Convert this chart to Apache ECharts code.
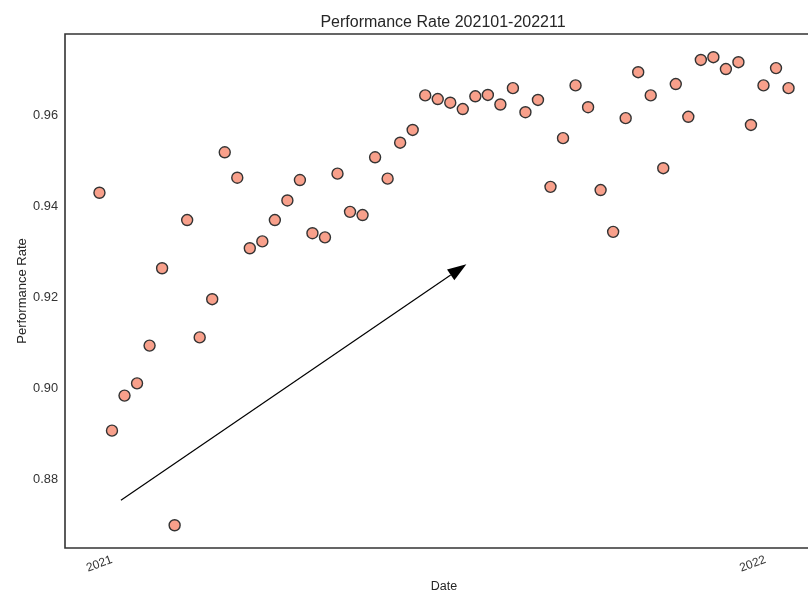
<!DOCTYPE html>
<html>
<head>
<meta charset="utf-8">
<script src="https://cdn.jsdelivr.net/npm/echarts@6/dist/echarts.min.js"></script>
<style>html,body{margin:0;padding:0;background:#fff}#c{width:808px;height:591px}</style>
</head>
<body>
<div id="c"></div>
<script>
const dates = ['2021-01-01','2021-01-08','2021-01-15','2021-01-22','2021-01-29','2021-02-05','2021-02-12','2021-02-19','2021-02-26','2021-03-05','2021-03-12','2021-03-19','2021-03-26','2021-04-02','2021-04-09','2021-04-16','2021-04-23','2021-04-30','2021-05-07','2021-05-14','2021-05-21','2021-05-28','2021-06-04','2021-06-11','2021-06-18','2021-06-25','2021-07-02','2021-07-09','2021-07-16','2021-07-23','2021-07-30','2021-08-06','2021-08-13','2021-08-20','2021-08-27','2021-09-03','2021-09-10','2021-09-17','2021-09-24','2021-10-01','2021-10-08','2021-10-15','2021-10-22','2021-10-29','2021-11-05','2021-11-12','2021-11-19','2021-11-26','2021-12-03','2021-12-10','2021-12-17','2021-12-24','2021-12-31','2022-01-07','2022-01-14','2022-01-21'];
const rates = [0.9431,0.8908,0.8985,0.9012,0.9095,0.9265,0.8700,0.9371,0.9113,0.9197,0.9520,0.9464,0.9309,0.9324,0.9371,0.9414,0.9459,0.9342,0.9333,0.9473,0.9389,0.9382,0.9509,0.9462,0.9541,0.9569,0.9645,0.9637,0.9629,0.9615,0.9643,0.9646,0.9625,0.9661,0.9608,0.9635,0.9444,0.9551,0.9667,0.9619,0.9437,0.9345,0.9595,0.9696,0.9645,0.9485,0.9670,0.9598,0.9723,0.9729,0.9703,0.9718,0.9580,0.9667,0.9705,0.9661];
const yTicks = [0.88, 0.90, 0.92, 0.94, 0.96];
const xTickLabels = ['2021', '2022'];
const arrowStart = ['2021-01-13', 0.8755];
const arrowEnd = ['2021-07-25', 0.9274];
const titleText = 'Performance Rate 202101-202211';

const parse = s => new Date(s + 'T00:00:00').getTime();
const tFirst = parse(dates[0]);
const tLast = parse(dates[dates.length - 1]);
const pad = 0.05 * (tLast - tFirst);
const xTickValues = xTickLabels.map(y => parse(y + '-01-01'));

const chart = echarts.init(document.getElementById('c'));
chart.setOption({
  animation: false,
  backgroundColor: '#fff',
  title: {
    text: titleText, left: 438, top: 10, textAlign: 'center',
    textStyle: {fontFamily: 'Liberation Sans', fontSize: 16, fontWeight: 'normal', color: '#262626'}
  },
  grid: {left: 65, top: 34, width: 758, height: 514, outerBoundsMode: 'none', containLabel: false,
         show: true, borderColor: '#333', borderWidth: 1.6},
  xAxis: {
    type: 'value', min: tFirst - pad, max: tLast + pad,
    name: 'Date', nameLocation: 'middle', nameGap: 29,
    nameTextStyle: {fontFamily: 'Liberation Sans', fontSize: 12.5, color: '#262626'},
    axisLine: {show: false}, axisTick: {show: false}, splitLine: {show: false},
    axisLabel: {
      customValues: xTickValues, rotate: 20, align: 'center', verticalAlign: 'middle', margin: 16,
      fontFamily: 'Liberation Sans', fontSize: 12, color: '#333',
      formatter: v => String(new Date(v).getFullYear())
    }
  },
  yAxis: {
    type: 'value', min: 0.865, max: 0.978,
    name: 'Performance Rate', nameLocation: 'middle', nameGap: 36, nameMoveOverlap: false,
    nameTextStyle: {fontFamily: 'Liberation Sans', fontSize: 13, color: '#262626'},
    axisLine: {show: false}, axisTick: {show: false}, splitLine: {show: false},
    axisLabel: {
      customValues: yTicks, margin: 7,
      fontFamily: 'Liberation Sans', fontSize: 12.8, color: '#333',
      formatter: v => v.toFixed(2)
    }
  },
  series: [
    {
      type: 'scatter',
      data: dates.map((d, i) => [parse(d), rates[i]]),
      symbolSize: 11,
      itemStyle: {color: '#f8a08b', borderColor: '#333', borderWidth: 1.4, opacity: 1}
    },
    {
      type: 'custom',
      data: [[parse(arrowStart[0]), arrowStart[1], parse(arrowEnd[0]), arrowEnd[1]]],
      encode: {x: [0, 2], y: [1, 3]},
      silent: true,
      renderItem: (params, api) => {
        const p0 = api.coord([api.value(0), api.value(1)]);
        const p1 = api.coord([api.value(2), api.value(3)]);
        const dx = p1[0] - p0[0], dy = p1[1] - p0[1];
        const len = Math.sqrt(dx * dx + dy * dy);
        const ux = dx / len, uy = dy / len;
        const hl = 19, hw = 6.5;
        const bx = p1[0] - ux * hl, by = p1[1] - uy * hl;
        return {
          type: 'group',
          children: [
            {type: 'line', shape: {x1: p0[0], y1: p0[1], x2: bx, y2: by}, style: {stroke: '#000', lineWidth: 1.2}},
            {type: 'polygon', shape: {points: [[p1[0], p1[1]], [bx - uy * hw, by + ux * hw], [bx + uy * hw, by - ux * hw]]}, style: {fill: '#000'}}
          ]
        };
      }
    }
  ]
});
</script>
</body>
</html>
